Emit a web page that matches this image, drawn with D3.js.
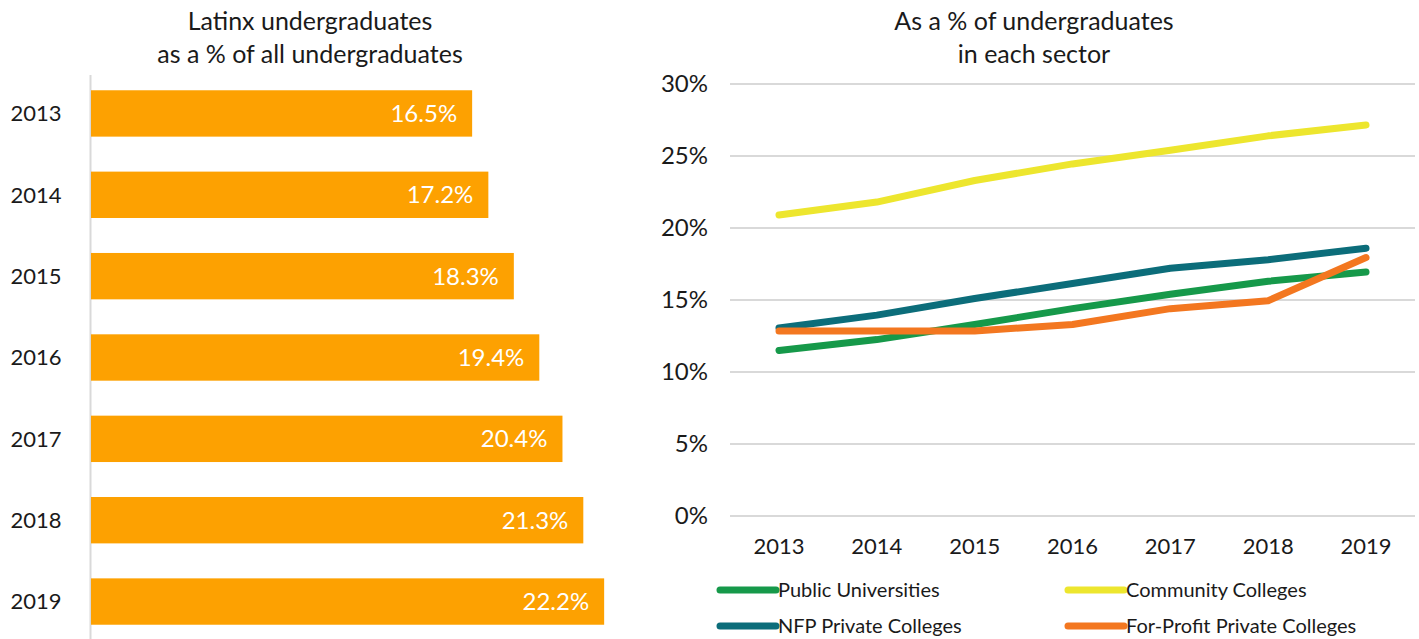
<!DOCTYPE html>
<html>
<head>
<meta charset="utf-8">
<script src="https://cdn.jsdelivr.net/npm/d3@7"></script>
<style>
  body { margin: 0; background: #fff; }
  svg text { font-family: Lato, "Liberation Sans", sans-serif; fill: #1a1a1a; }
</style>
</head>
<body>
<svg id="chart" width="1419" height="639"></svg>
<script>
// ----- data -----
const years = ["2013", "2014", "2015", "2016", "2017", "2018", "2019"];
const latinx_share = [16.5, 17.2, 18.3, 19.4, 20.4, 21.3, 22.2];

const sector_names = ["Public Universities", "Community Colleges", "NFP Private Colleges", "For-Profit Private Colleges"];
const public_univ = [11.5, 12.25, 13.3, 14.4, 15.4, 16.3, 16.95];
const community_coll = [20.9, 21.8, 23.3, 24.45, 25.4, 26.4, 27.15];
const nfp_private = [13.05, 13.95, 15.1, 16.15, 17.2, 17.8, 18.6];
const forprofit_private = [12.85, 12.85, 12.85, 13.3, 14.4, 14.95, 17.95];
const y_ticks = [0, 5, 10, 15, 20, 25, 30];

const sector_colors = ["#16994a", "#ede62e", "#0c6d7a", "#f37720"];
const sector_series = [public_univ, community_coll, nfp_private, forprofit_private];

const svg = d3.select("#chart");

// ----- left: horizontal bars -----
const bar_x = d3.scaleLinear().domain([0, 10]).range([90, 90 + 231.6]);
const bar_y = d3.scaleBand().domain(years).range([74, 641]).paddingInner(0.43).paddingOuter(0.2);

const left_title = svg.append("text")
    .attr("y", 30)
    .attr("text-anchor", "middle")
    .style("font-size", "25px");
left_title.append("tspan").attr("x", 310).text("Latinx undergraduates");
left_title.append("tspan").attr("x", 310).attr("dy", 33).text("as a % of all undergraduates");

svg.append("line")
    .attr("x1", 90.5).attr("x2", 90.5)
    .attr("y1", 75).attr("y2", 639)
    .attr("stroke", "#d9d9d9").attr("stroke-width", 2);

svg.selectAll(".bar")
    .data(latinx_share)
    .enter()
    .append("rect")
    .attr("class", "bar")
    .attr("x", bar_x(0) + 1)
    .attr("y", (d, i) => bar_y(years[i]))
    .attr("width", d => bar_x(d) - bar_x(0) - 1)
    .attr("height", bar_y.bandwidth())
    .attr("fill", "#fda101");

svg.selectAll(".bar-label")
    .data(latinx_share)
    .enter()
    .append("text")
    .attr("class", "bar-label")
    .attr("x", d => bar_x(d) - 15)
    .attr("y", (d, i) => bar_y(years[i]) + bar_y.bandwidth() / 2)
    .attr("dy", "0.35em")
    .attr("text-anchor", "end")
    .style("font-size", "24px")
    .style("fill", "#fff")
    .text(d => d.toFixed(1) + "%");

svg.selectAll(".year-label")
    .data(years)
    .enter()
    .append("text")
    .attr("class", "year-label")
    .attr("x", 36)
    .attr("y", d => bar_y(d) + bar_y.bandwidth() / 2)
    .attr("dy", "0.35em")
    .attr("text-anchor", "middle")
    .style("font-size", "22px")
    .text(d => d);

// ----- right: lines -----
const line_x = d3.scalePoint().domain(years).range([779, 1366]);
const line_y = d3.scaleLinear().domain([0, 30]).range([516, 84]);

const right_title = svg.append("text")
    .attr("text-anchor", "middle")
    .attr("y", 30)
    .style("font-size", "25px");
right_title.append("tspan").attr("x", 1034).text("As a % of undergraduates");
right_title.append("tspan").attr("x", 1034).attr("dy", 33).text("in each sector");

// gridlines
svg.append("g")
    .selectAll("line")
    .data(y_ticks)
    .enter()
    .append("line")
    .attr("x1", 730).attr("x2", 1415)
    .attr("y1", d => line_y(d)).attr("y2", d => line_y(d))
    .attr("stroke", "#d9d9d9").attr("stroke-width", 2);

// y tick labels
svg.append("g")
    .selectAll("text")
    .data(y_ticks)
    .enter()
    .append("text")
    .attr("x", 708)
    .attr("y", d => line_y(d))
    .attr("dy", "0.35em")
    .attr("text-anchor", "end")
    .style("font-size", "24px")
    .text(d => d + "%");

// x tick labels
svg.append("g")
    .selectAll("text")
    .data(years)
    .enter()
    .append("text")
    .attr("x", d => line_x(d))
    .attr("y", 546)
    .attr("dy", "0.35em")
    .attr("text-anchor", "middle")
    .style("font-size", "22px")
    .text(d => d);

const line_gen = d3.line()
    .x((d, i) => line_x(years[i]))
    .y(d => line_y(d));

// draw order: community, public, nfp, for-profit on top
[1, 0, 2, 3].forEach(k => {
    svg.append("path")
        .datum(sector_series[k])
        .attr("d", line_gen)
        .attr("fill", "none")
        .attr("stroke", sector_colors[k])
        .attr("stroke-width", 7)
        .attr("stroke-linecap", "round")
        .attr("stroke-linejoin", "round");
});

// legend
const legend = svg.append("g")
    .selectAll("g")
    .data(sector_names)
    .enter()
    .append("g")
    .attr("transform", (d, i) => "translate(" + (i % 2 === 0 ? 720 : 1068) + "," + (i < 2 ? 590 : 626) + ")");

legend.append("line")
    .attr("x1", 0).attr("x2", 56)
    .attr("stroke", (d, i) => sector_colors[i])
    .attr("stroke-width", 7)
    .attr("stroke-linecap", "round");

legend.append("text")
    .attr("x", 58)
    .attr("dy", "0.35em")
    .style("font-size", "20px")
    .text(d => d);
</script>
</body>
</html>
